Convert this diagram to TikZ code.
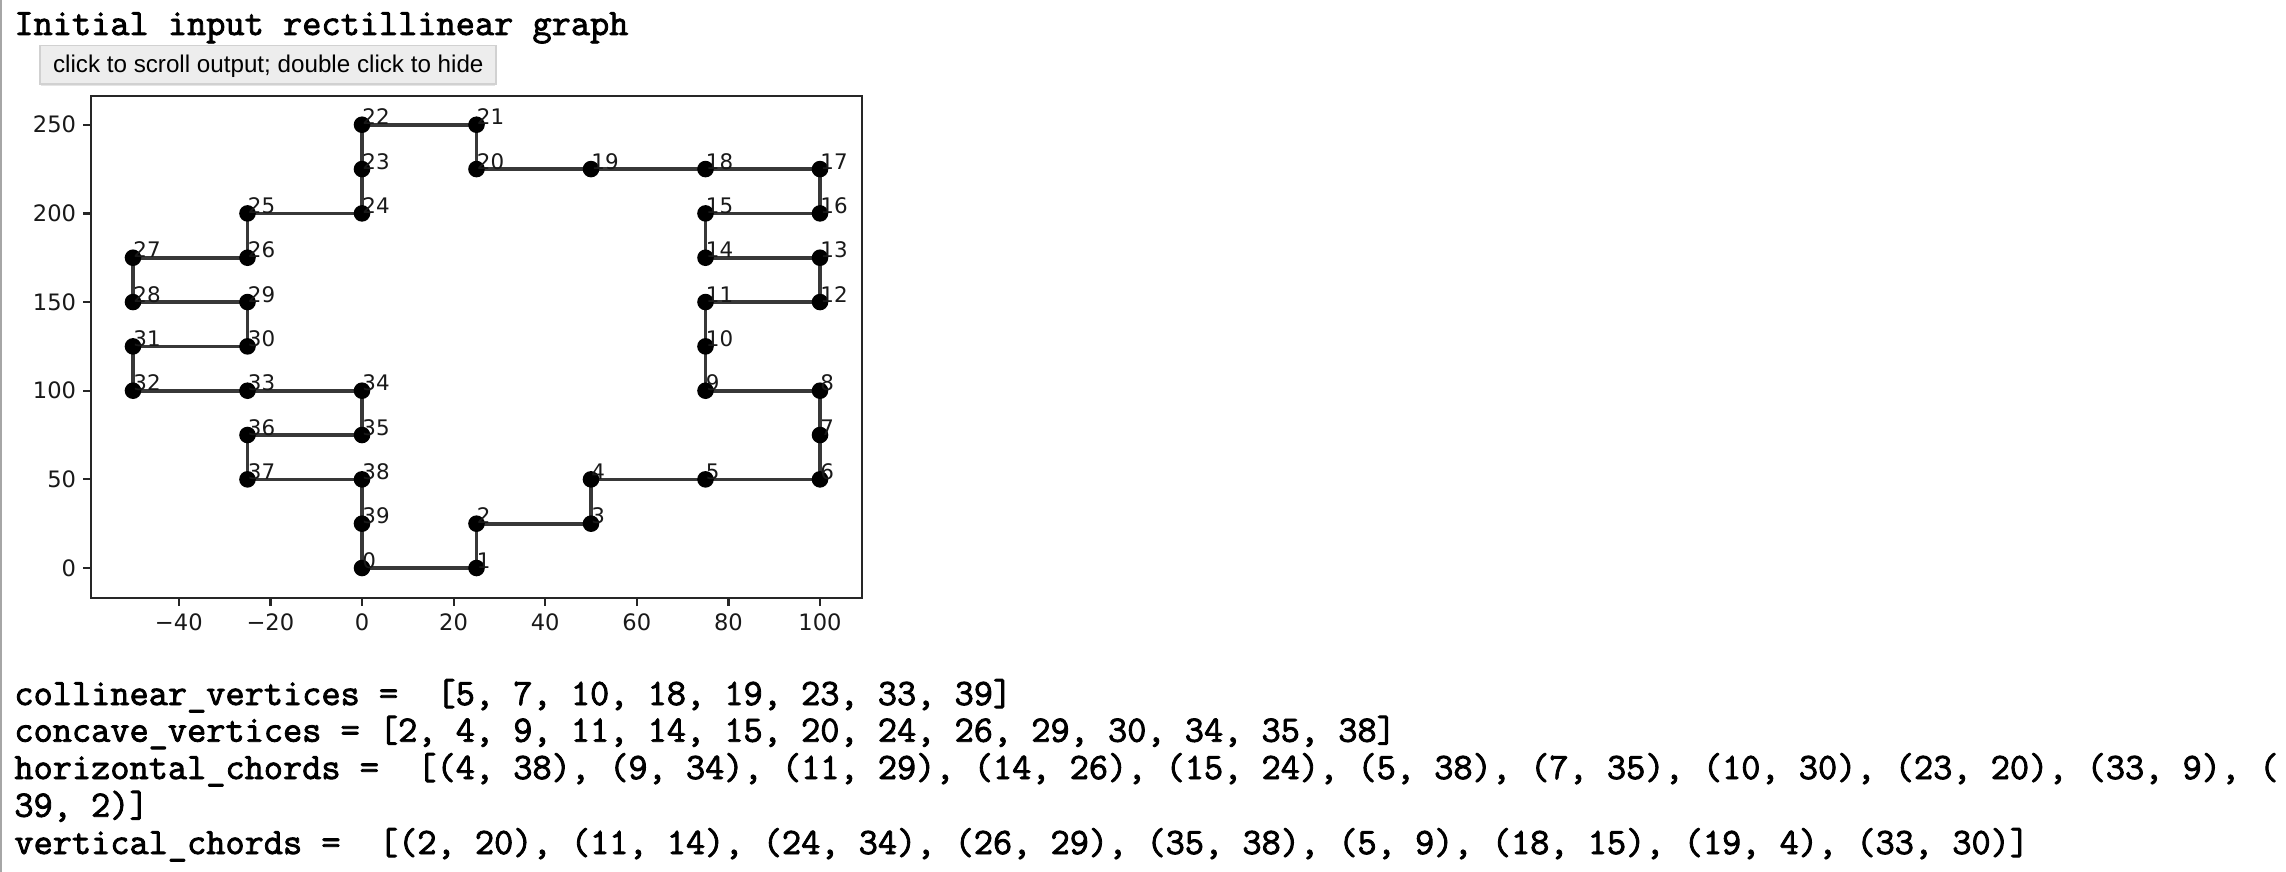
\documentclass[tikz,border=0pt]{standalone}
\usepackage{fontspec}
\setmonofont[FakeBold=2.2]{Latin Modern Mono}
\newfontfamily\sansf{Liberation Sans}
\newfontfamily\dvs{DejaVu Sans}
\begin{document}
\begin{tikzpicture}[x=0.5pt,y=-0.5pt,
  mono/.style={font=\ttfamily\fontsize{18.63}{20}\selectfont, anchor=base west, inner sep=0pt, text=black},
  btn/.style={draw=black!18, fill=black!7, line width=0.6pt},
  btntext/.style={font=\sansf\fontsize{12.1}{14}\selectfont, anchor=base west, inner sep=0pt},
  frame/.style={draw=black!85, line width=1.1pt},
  tick/.style={draw=black!85, line width=1.1pt},
  tlab/.style={font=\dvs\fontsize{11.3}{13}\selectfont, inner sep=0pt, text=black!90},
  edge/.style={draw=black!78, line width=1.85pt},
  dot/.style={circle, fill=black, inner sep=0pt, minimum size=8.3pt},
  lab/.style={font=\dvs\fontsize{10.7}{12}\selectfont, anchor=base west, inner sep=0pt, text=black!90}
]
\useasboundingbox (0,0) rectangle (2286,872);
\fill[white] (0,0) rectangle (2286,872);
\draw[black!35, line width=1pt] (1,0) -- (1,872);

% title and button
\node[mono] (title) at (14,35) {Initial input rectillinear graph};
\draw[black!10, line width=1pt] (41,85.5) -- (495,85.5);
\path[btn] (40,45.7) rectangle (496,84);
\node[btntext] (btnlabel) at (52.7,72.3) {click to scroll output; double click to hide};

% axes frame
\path[frame] (91,96) rectangle (862,598);
\foreach \t/\s in {-40/−40,-20/−20,0/0,20/20,40/40,60/60,80/80,100/100}{
  \pgfmathsetmacro\xx{362+4.58*\t}
  \draw[tick] (\xx,598) -- (\xx,605.7);
  \node[tlab, anchor=north] (xt\t) at (\xx,613.4) {\s};
}
\foreach \t in {0,50,100,150,200,250}{
  \pgfmathsetmacro\yy{568-1.773*\t}
  \draw[tick] (83.3,\yy) -- (91,\yy);
  \node[tlab, anchor=east] (yt\t) at (76.5,\yy) {\t};
}

% data
\begin{scope}[shift={(181pt,-284pt)}, x=2.29pt, y=0.8865pt]
\foreach \i/\a/\b in {0/0/0,1/25/0,2/25/25,3/50/25,4/50/50,5/75/50,6/100/50,7/100/75,
  8/100/100,9/75/100,10/75/125,11/75/150,12/100/150,13/100/175,14/75/175,15/75/200,
  16/100/200,17/100/225,18/75/225,19/50/225,20/25/225,21/25/250,22/0/250,23/0/225,
  24/0/200,25/-25/200,26/-25/175,27/-50/175,28/-50/150,29/-25/150,30/-25/125,
  31/-50/125,32/-50/100,33/-25/100,34/0/100,35/0/75,36/-25/75,37/-25/50,38/0/50,39/0/25}
  {\coordinate (p\i) at (\a,\b);}
\draw[edge, line join=round] (p0) \foreach \i in {1,...,39}{ -- (p\i)} -- cycle;
\foreach \i in {0,...,39}{\node[dot] (m\i) at (p\i) {};}
\foreach \i in {0,...,39}{\node[lab] (l\i) at (p\i) {\i};}
\end{scope}

% text output
\node[mono] (t1) at (14,705) {collinear\_vertices =\ \ [5, 7, 10, 18, 19, 23, 33, 39]};
\node[mono] (t2) at (14,741.7) {concave\_vertices = [2, 4, 9, 11, 14, 15, 20, 24, 26, 29, 30, 34, 35, 38]};
\node[mono] (t3) at (14,779) {horizontal\_chords =\ \ [(4, 38), (9, 34), (11, 29), (14, 26), (15, 24), (5, 38), (7, 35), (10, 30), (23, 20), (33, 9), (};
\node[mono] (t4) at (14,816.7) {39, 2)]};
\node[mono] (t5) at (14,854) {vertical\_chords =\ \ [(2, 20), (11, 14), (24, 34), (26, 29), (35, 38), (5, 9), (18, 15), (19, 4), (33, 30)]};
\end{tikzpicture}
\end{document}
